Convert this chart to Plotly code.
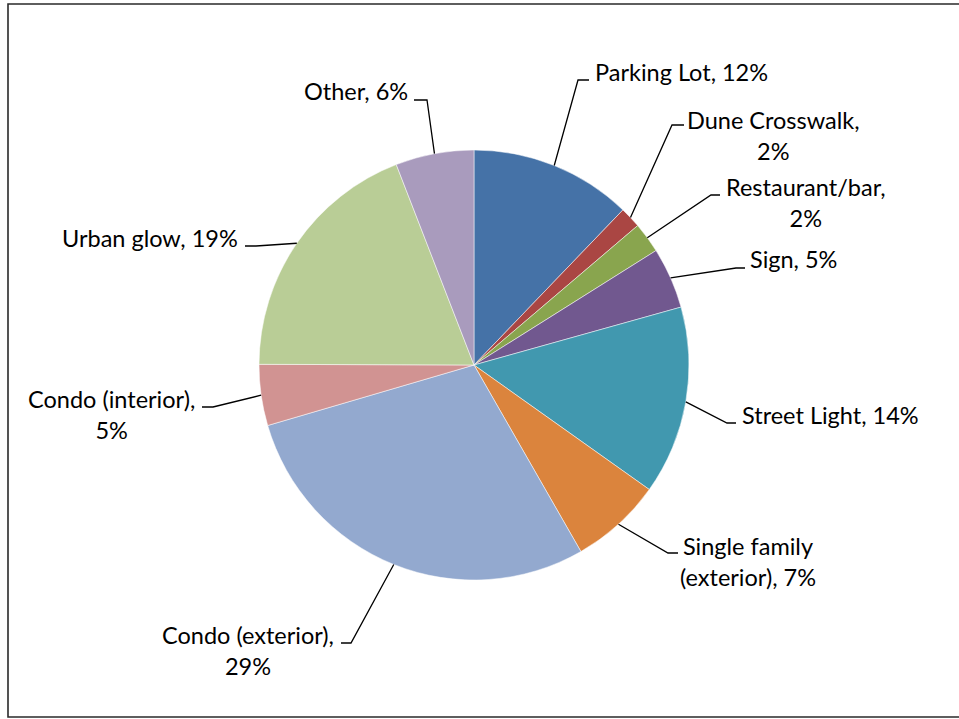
import math
import plotly.graph_objects as go

# ---------------- data ----------------
categories = ["Parking Lot", "Dune Crosswalk", "Restaurant/bar", "Sign", "Street Light",
              "Single family (exterior)", "Condo (exterior)", "Condo (interior)",
              "Urban glow", "Other"]
values = [12.2, 1.6, 2.3, 4.6, 14.2, 6.9, 28.8, 4.6, 19.1, 5.9]
# how each category name is broken onto lines in its label
label_names = ["Parking Lot", "Dune Crosswalk,<br>", "Restaurant/bar,<br>", "Sign", "Street Light",
               "Single family<br>(exterior)", "Condo (exterior),<br>", "Condo (interior),<br>",
               "Urban glow", "Other"]

colors = ["#4572A7", "#AA4643", "#89A54E", "#71588F", "#4198AF",
          "#DB843D", "#93A9CF", "#D19392", "#B9CD96", "#A99BBD"]

# ---------------- layout constants (pixels) ----------------
W, H = 959, 719
CX, CY, R = 474, 365, 215

def px(x):
    return x / W

def py(y):
    return 1 - y / H

# label placement: text anchor (x, y, xanchor), leader elbow, leader end
label_layout = [
    dict(x=594, y=72, xa="left", elbow=(578, 80), end=(589, 80)),
    dict(x=773, y=135, xa="center", elbow=(672, 125), end=(684, 125)),
    dict(x=806, y=203, xa="center", elbow=(711, 195), end=(720, 195)),
    dict(x=749, y=259, xa="left", elbow=(736, 268), end=(745, 268)),
    dict(x=741, y=415, xa="left", elbow=(727, 423), end=(736, 423)),
    dict(x=748, y=561, xa="center", elbow=(668, 553), end=(678, 553)),
    dict(x=248, y=650, xa="center", elbow=(351, 643), end=(341, 643)),
    dict(x=111, y=415, xa="center", elbow=(213, 407), end=(202, 407)),
    dict(x=239, y=238, xa="right", elbow=(256, 246), end=(245, 246)),
    dict(x=409, y=91, xa="right", elbow=(427, 100), end=(414, 100)),
]

FONT = dict(family="Lato, 'Liberation Sans', sans-serif", size=23.5, color="#000000")

total = sum(values)

fig = go.Figure(go.Pie(
    labels=categories,
    values=values,
    sort=False,
    direction="clockwise",
    rotation=0,
    marker=dict(colors=colors, line=dict(color="white", width=0.5)),
    textinfo="none",
    hoverinfo="label+percent",
    showlegend=False,
    domain=dict(x=[px(CX - R), px(CX + R)], y=[py(CY + R), py(CY - R)]),
))

annotations = []
shapes = []
cum = 0.0
for v, name, lay in zip(values, label_names, label_layout):
    pct = round(v / total * 100)
    if name.endswith("<br>"):
        text = f"{name}{pct}%"
    else:
        text = f"{name}, {pct}%"
    mid = (cum + v / 2) / total * 2 * math.pi
    cum += v
    sx = CX + R * math.sin(mid)
    sy = CY - R * math.cos(mid)
    ex, ey = lay["elbow"]
    fx, fy = lay["end"]
    shapes.append(dict(
        type="path", xref="paper", yref="paper",
        path=f"M {px(sx)} {py(sy)} L {px(ex)} {py(ey)} L {px(fx)} {py(fy)}",
        line=dict(color="black", width=1.3),
    ))
    annotations.append(dict(
        x=px(lay["x"]), y=py(lay["y"]), xref="paper", yref="paper",
        text=text, showarrow=False, xanchor=lay["xa"], yanchor="middle",
        align="center", font=FONT, borderpad=0,
    ))

# chart border
shapes.append(dict(type="rect", xref="paper", yref="paper",
                   x0=px(8), x1=px(966), y0=py(717), y1=py(4),
                   line=dict(color="#2a2a2a", width=1.6), fillcolor="rgba(0,0,0,0)"))

fig.update_layout(
    width=W, height=H,
    margin=dict(l=0, r=0, t=0, b=0),
    paper_bgcolor="white", plot_bgcolor="white",
    annotations=annotations, shapes=shapes,
)

fig.write_html(
    "out.html",
    config={"displayModeBar": False},
    post_script="document.body.style.margin='0';document.body.style.overflow='hidden';",
)
